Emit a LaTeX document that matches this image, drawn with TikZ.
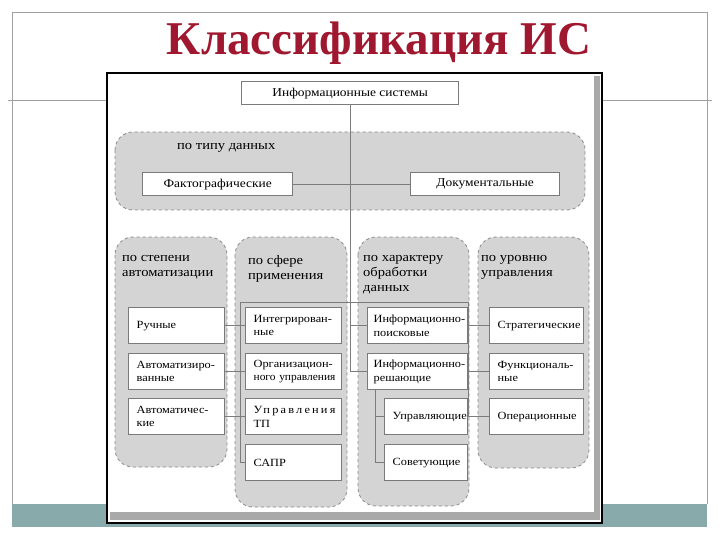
\documentclass[tikz,border=0pt]{standalone}
\usepackage{fontspec}
\setmainfont{Liberation Serif}
\newfontfamily\diagfont[FakeStretch=1.12]{Liberation Serif}
\usetikzlibrary{positioning}
\definecolor{titlered}{HTML}{A01830}
\definecolor{grpfill}{HTML}{D4D4D4}
\definecolor{dashgray}{HTML}{8A8A8A}
\definecolor{boxgray}{HTML}{7A7A7A}
\definecolor{linegray}{HTML}{7C7C7C}
\definecolor{slideline}{HTML}{A0A0A0}
\definecolor{bandteal}{HTML}{88AAAA}
\definecolor{scrollgray}{HTML}{A9A9A9}
\tikzset{
grp/.style={fill=grpfill,draw=dashgray,dashed,line width=.8pt,rounded corners=18pt},
cell/.style={draw=boxgray,line width=1.3pt,fill=white,anchor=north west,minimum height=36pt,inner xsep=8pt,inner ysep=2pt,text width=#1,align=left,font=\diagfont\fontsize{11}{13.5}\selectfont},
cell/.default=80pt,
widecell/.style={draw=boxgray,line width=1.3pt,fill=white,anchor=north west,minimum height=23pt,inner sep=0pt,minimum width=#1,font=\diagfont\fontsize{12}{14}\selectfont},
grplabel/.style={anchor=north west,inner sep=0pt,align=left,font=\diagfont\fontsize{13}{15}\selectfont},
link/.style={draw=linegray,line width=1pt}
}
\begin{document}
\begin{tikzpicture}[x=1pt,y=-1pt]
\useasboundingbox (0,0) rectangle (720,540);
% slide
\fill[white] (0,0) rectangle (720,540);
\fill[bandteal] (12,504) rectangle (707,527);
\draw[slideline,line width=.8pt] (12,12) -- (707,12);
\draw[slideline,line width=.8pt] (12,12) -- (12,504);
\draw[slideline,line width=.8pt] (707,12) -- (707,504);
\draw[slideline,line width=.8pt] (8,100) -- (108,100);
\draw[slideline,line width=.8pt] (602,100) -- (712,100);
\node[font=\bfseries\fontsize{47}{50}\selectfont,text=titlered,anchor=base] (title) at (379,55) {Классификация ИС};
% picture frame
\draw[line width=2pt,fill=white] (107,73) rectangle (602,523);
\fill[scrollgray] (594,76) rectangle (600,520);
\fill[scrollgray] (110,512) rectangle (600,520);
% groups
\draw[grp] (115,132) rectangle (585,210);
\draw[grp] (115,237) rectangle (227,467);
\draw[grp] (235,237) rectangle (347,507);
\draw[grp] (358,237) rectangle (469,506);
\draw[grp] (478,237) rectangle (589,468);
\node[grplabel] (typelbl) at (177,143) {по типу данных};
\node[grplabel] (autolbl) at (122,255) {по степени\\автоматизации};
\node[grplabel] (arealbl) at (248,255) {по сфере\\применения};
\node[grplabel] (proclbl) at (363,255) {по характеру\\обработки\\данных};
\node[grplabel] (levellbl) at (481,255) {по уровню\\управления};
% boxes
\node[widecell=217pt] (infsys) at (241,81) {Информационные системы};
\node[widecell=150pt] (fact) at (142,172) {Фактографические};
\node[widecell=149pt] (doc) at (410,172) {Документальные};
\node[cell] (manual) at (128,307) {Ручные};
\node[cell] (semiauto) at (128,353) {Автоматизиро-\\ванные};
\node[cell] (auto) at (128,398) {Автоматичес-\\кие};
\node[cell] (integr) at (245,307) {Интегрирован-\\ные};
\node[cell] (orgctl) at (245,353) {Организацион-\\{\addfontfeature{FakeStretch=1.04}ного~управления}};
\node[cell] (tpctl) at (245,398) {{\addfontfeature{LetterSpace=20}Управления}\\ТП};
\node[cell] (cad) at (245,444) {САПР};
\node[cell=88pt,inner xsep=6pt] (search) at (367,307) {\mbox{Информационно-}\\поисковые};
\node[cell=88pt,inner xsep=6pt] (decide) at (367,353) {\mbox{Информационно-}\\решающие};
\node[cell=67pt,align=center] (control) at (384,398) {Управляющие};
\node[cell=67pt,align=center] (advise) at (384,444) {Советующие};
\node[cell=78pt] (strat) at (489,307) {Стратегические};
\node[cell=78pt] (func) at (489,353) {Функциональ-\\ные};
\node[cell=78pt] (oper) at (489,398) {Операционные};
\coordinate (busL) at (240,302);
\coordinate (busR) at (468,302);
\coordinate (subbus) at (375,390);
% links
\draw[link] (infsys.south) -- (infsys.south |- decide.west) -- (decide.west);
\draw[link] (infsys.south |- search.west) -- (search.west);
\draw[link] (fact.east) -- (doc.west);
\draw[link] (busL) -- (busR);
\draw[link] (busL) -- (busL |- cad.west) -- (cad.west);
\foreach \a/\b in {manual/integr,semiauto/orgctl,auto/tpctl}
  \draw[link] (\a.east) -- (\b.west);
\draw[link] (busR) -- (busR |- oper.west) -- (oper.west);
\foreach \n in {strat,func}
  \draw[link] (busR |- \n.west) -- (\n.west);
\draw[link] (subbus) -- (subbus |- advise.west) -- (advise.west);
\draw[link] (subbus |- control.west) -- (control.west);
\end{tikzpicture}
\end{document}
